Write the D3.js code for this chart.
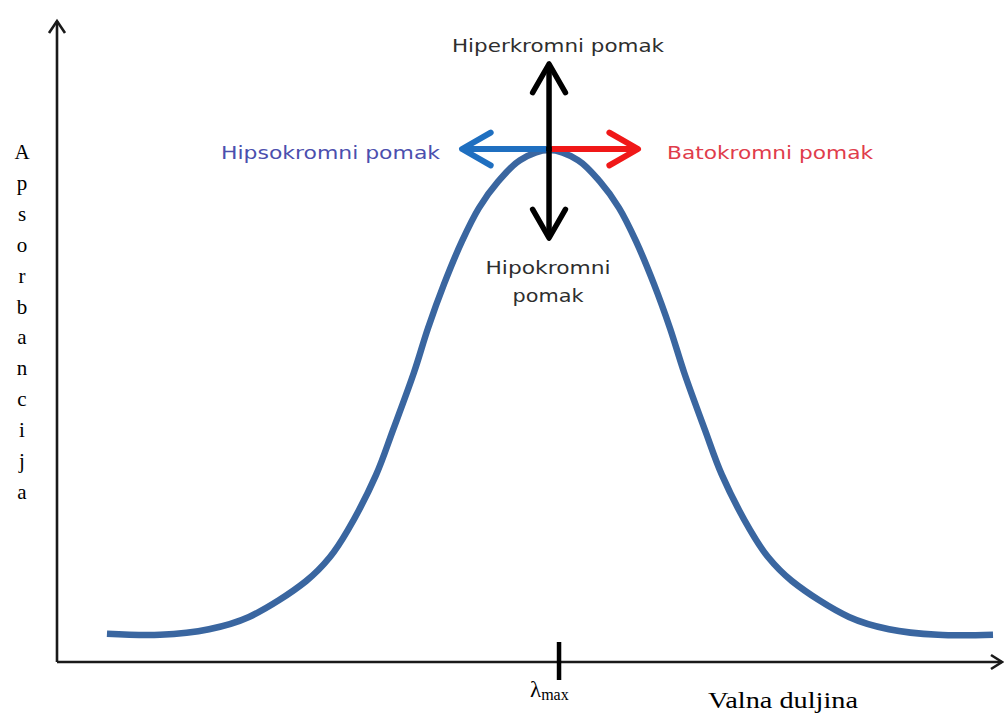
<!DOCTYPE html>
<html>
<head>
<meta charset="utf-8">
<script src="https://cdn.jsdelivr.net/npm/d3@7"></script>
<style>
  html, body { margin: 0; padding: 0; background: #fff; }
  svg { display: block; }
</style>
</head>
<body>
<svg id="chart" width="1004" height="715"></svg>
<script>
// ---- data (arbitrary units: wavelength 0..100, absorbance 0..1) ----
const wavelength = [0.44, 6.33, 11.78, 16.22, 22.56, 25.22, 27.22, 30.33, 32.22, 34.56, 36.11, 37.89, 39.89,
                    41.78, 43.89, 46.33, 49.56, 52.78, 55.22, 57.33, 59.22, 61.22, 63.0, 64.56, 66.89, 68.78,
                    71.89, 73.89, 76.56, 82.89, 87.33, 92.78, 98.89];
const absorbance = [0.055, 0.053, 0.064, 0.088, 0.158, 0.205, 0.258, 0.365, 0.453, 0.566, 0.652, 0.738, 0.822,
                    0.887, 0.938, 0.980, 1.0, 0.980, 0.938, 0.887, 0.822, 0.738, 0.652, 0.566, 0.453, 0.365,
                    0.258, 0.205, 0.158, 0.088, 0.064, 0.053, 0.053];
const lambdaMax = 50.67;
const peakWavelength = 49.56;
const peakAbsorbance = 1.0;
const shiftLabels = ["Hiperkromni pomak", "Hipsokromni pomak", "Batokromni pomak", "Hipokromni", "pomak"];
const yAxisLabel = "Apsorbancija";
const xAxisLabel = "Valna duljina";

// ---- scales ----
const svg = d3.select("#chart");
const x = d3.scaleLinear().domain([0, 100]).range([103, 1003]);
const y = d3.scaleLinear().domain([0, 1]).range([662, 150]);
const x0 = 57, yBase = 662;

// ---- axes ----
const axisColor = "#1a1a1a";
svg.append("line").attr("x1", x0).attr("y1", yBase).attr("x2", x0).attr("y2", 21)
  .attr("stroke", axisColor).attr("stroke-width", 2.6);
svg.append("path").attr("d", `M${x0-8},${33} L${x0},${21} L${x0+8},${33}`)
  .attr("fill", "none").attr("stroke", axisColor).attr("stroke-width", 2.6);
svg.append("line").attr("x1", x0).attr("y1", yBase).attr("x2", 1002).attr("y2", yBase)
  .attr("stroke", axisColor).attr("stroke-width", 2.6);
svg.append("path").attr("d", `M${991},${655} L${1002},${yBase} L${991},${669}`)
  .attr("fill", "none").attr("stroke", axisColor).attr("stroke-width", 2.6);

// lambda max tick via d3 axis
const tickAxis = d3.axisBottom(x).tickValues([lambdaMax]).tickSize(0).tickFormat("");
const tg = svg.append("g").attr("transform", `translate(0,${yBase})`).call(tickAxis);
tg.select(".domain").remove();
svg.append("line").attr("x1", x(lambdaMax)).attr("x2", x(lambdaMax))
  .attr("y1", 642).attr("y2", 680).attr("stroke", "#000").attr("stroke-width", 4.5);

// ---- curve ----
const pts = wavelength.map((w, i) => [w, absorbance[i]]);
const line = d3.line().x(d => x(d[0])).y(d => y(d[1])).curve(d3.curveCatmullRom.alpha(0.5));
svg.append("path").datum(pts).attr("d", line)
  .attr("fill", "none").attr("stroke", "#3a66a0").attr("stroke-width", 6.5).attr("stroke-linecap", "butt");

// ---- shift arrows ----
const px = x(peakWavelength), py = y(peakAbsorbance) - 1;
function arrow(x1, y1, x2, y2, color, w) {
  svg.append("line").attr("x1", x1).attr("y1", y1).attr("x2", x2).attr("y2", y2)
    .attr("stroke", color).attr("stroke-width", w);
  const ang = Math.atan2(y2 - y1, x2 - x1);
  const L = 33, a = 0.52;
  const p1 = [x2 - L * Math.cos(ang - a), y2 - L * Math.sin(ang - a)];
  const p2 = [x2 - L * Math.cos(ang + a), y2 - L * Math.sin(ang + a)];
  svg.append("path").attr("d", `M${p1[0]},${p1[1]} L${x2},${y2} L${p2[0]},${p2[1]}`)
    .attr("fill", "none").attr("stroke", color).attr("stroke-width", w)
    .attr("stroke-linecap", "round").attr("stroke-linejoin", "round");
}
arrow(px, py, px - 87, py, "#1f6fc0", 6);
arrow(px, py, px + 89, py, "#f01818", 6);
arrow(px, py + 2, px, 64, "#000", 5.5);
arrow(px, py - 2, px, 238, "#000", 5.5);

// ---- labels ----
const sans = "'DejaVu Sans', Verdana, sans-serif";
const serif = "'Liberation Serif', 'Times New Roman', serif";
function lab(t, xx, yy, anchor, color, len) {
  svg.append("text").attr("x", xx).attr("y", yy).attr("text-anchor", anchor)
    .attr("font-family", sans).attr("font-size", 18).attr("fill", color)
    .attr("textLength", len).attr("lengthAdjust", "spacingAndGlyphs").text(t);
}
lab(shiftLabels[0], 558, 52, "middle", "#2e2e2e", 212);
lab(shiftLabels[1], 440, 159, "end", "#4b4fae", 219);
lab(shiftLabels[2], 667, 159, "start", "#e03c4b", 206);
lab(shiftLabels[3], 548, 274, "middle", "#2e2e2e", 125);
lab(shiftLabels[4], 548, 302, "middle", "#2e2e2e", 71);

// vertical y label
const yl = svg.append("g");
yAxisLabel.split("").forEach((ch, i) => {
  yl.append("text").attr("x", 22).attr("y", 159 + i * 30.9).attr("text-anchor", "middle")
    .attr("font-family", serif).attr("font-size", 21).attr("fill", "#000").text(ch);
});

// lambda max label
const lt = svg.append("text").attr("x", 530).attr("y", 697)
  .attr("font-family", serif).attr("fill", "#000");
lt.append("tspan").attr("font-size", 23).text("λ");
lt.append("tspan").attr("font-size", 16).attr("dy", 3).text("max");

svg.append("text").attr("x", 708).attr("y", 708)
  .attr("font-family", serif).attr("font-size", 23).attr("fill", "#000")
  .attr("textLength", 150).attr("lengthAdjust", "spacingAndGlyphs").text(xAxisLabel);
</script>
</body>
</html>
